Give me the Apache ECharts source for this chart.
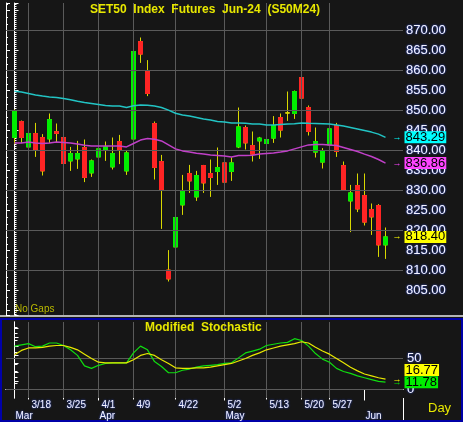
<!DOCTYPE html>
<html>
<head>
<meta charset="utf-8">
<script src="https://cdn.jsdelivr.net/npm/echarts@6.0.0/dist/echarts.min.js"></script>
<style>
html, body { margin: 0; padding: 0; background: #161616; }
#chart { width: 463px; height: 422px; }
</style>
</head>
<body>
<div id="chart"></div>
<script>
// trading days shown on the chart
const dates = ['3/14','3/15','3/18','3/19','3/20','3/21','3/22','3/25','3/26','3/27','3/28','3/29',
    '4/1','4/2','4/3','4/4','4/5','4/9','4/10','4/11','4/17','4/18','4/19','4/22','4/23','4/24','4/25','4/26','4/29','4/30',
    '5/2','5/3','5/7','5/8','5/9','5/10','5/13','5/14','5/15','5/16','5/17','5/20','5/21','5/23','5/24','5/27','5/28','5/29','5/30','5/31',
    '6/4','6/5','6/6','6/7'];

const openPrices = [843.25,847.25,840.9,844.25,843.25,842.9,844.75,843.25,837.4,837.9,840.75,834.4,
    838.4,840.25,835.9,842.25,834.9,842.9,867.25,859.75,846.75,837.25,810.1,815.9,826.4,834.25,828.4,836.25,834.25,834.75,
    836.9,834.75,840.9,845.75,841.25,842.4,841.75,843.1,848.25,849.4,849.25,858.25,850.75,839.6,837.1,841.4,846.25,836.25,827.4,831.25,
    828.75,825.25,826.25,816.4];
const closePrices = [849.75,843.25,844.25,840.25,834.9,847.75,844.25,836.75,839.25,839.25,833.25,837.4,
    840.4,840.9,839.25,840.25,839.4,864.75,864.1,854.25,835.75,830.25,807.9,823.25,829.75,832.4,833.75,831.9,833.25,835.75,
    832.1,836.9,845.9,841.9,839.1,843.1,842.75,846.25,845.1,849.4,854.75,853.1,844.75,842.25,839.9,845.4,839.75,830.25,829.4,825.4,
    822.1,823.4,816.4,818.4];
const lowPrices = [841.6,841.9,840.6,838.4,833.75,841.9,841.9,834.6,834.9,835.4,832.1,833.4,
    837.1,837.4,835.25,836.6,833.9,841.9,861.9,853.6,832.75,820.4,807.25,813.1,823.9,829.4,827.4,829.4,828.4,831.4,
    830.6,832.4,840.6,840.25,837.25,837.9,839.25,841.9,843.25,847.4,847.9,852.1,843.75,838.25,835.5,839.9,838.4,829.9,819.6,824.6,
    821.25,818.9,813.4,812.9];
const highPrices = [850.25,847.5,849.25,846.9,844.1,849.25,846.75,845.25,840.9,842.4,842.75,837.75,
    844.75,842.25,843.25,843.9,839.9,865.25,868.25,862.6,847.25,838.9,815.1,824.75,833.9,836.4,834.9,836.4,837.75,840.75,
    837.6,838.25,850.75,846.25,844.75,843.4,845.4,848.6,849.25,854.75,855.0,860.1,851.25,845.75,840.6,845.75,846.9,837.25,831.4,834.25,
    834.25,826.75,826.6,820.75];

// moving averages (cyan = long, magenta = short)
const maLong = [854.8,854.6,854.25,853.9,853.6,853.4,853.25,853.0,852.7,852.3,852.0,851.75,
    851.5,851.25,851.1,851.1,850.75,851.2,851.4,851.3,851.1,850.75,850.1,849.3,848.9,848.6,848.25,847.9,847.6,847.25,
    847.1,846.9,846.9,846.8,846.6,846.6,846.4,846.4,846.5,846.6,846.7,846.9,846.8,846.75,846.7,846.6,846.4,846.1,845.75,845.4,
    845.0,844.6,844.1,843.29];
const maShort = [841.9,841.9,842.1,841.9,841.75,841.9,842.1,842.0,841.9,841.6,841.3,841.1,
    841.1,841.1,841.1,841.1,840.9,841.75,842.6,843.0,842.8,842.4,841.4,840.4,839.9,839.6,839.3,839.1,838.9,838.75,
    838.6,838.4,838.75,838.75,838.8,839.1,839.25,839.4,839.6,839.9,840.4,840.9,841.4,841.5,841.5,841.4,841.25,840.75,840.25,839.75,
    839.1,838.5,837.75,836.86];

// modified stochastic
const stochK = [70,72,74,69,70,75,75,71,64,55,38,34,
    39,42,43,43,43,59,70,64,45,37,27,27,31,33,36,38,39,40,
    42,43,51,59,62,65,71,73,75,76,82,79,70,58,49,44,34,29,26,22,
    19,16,13,11.78];
const stochD = [56,63,67,67,68,70,71,71,68,64,57,50,
    44,43,43,43,43,48,55,58,55,48,42,35,34,34,35,35,36,38,
    40,42,46,50,55,59,64,67,70,72,74,77,75,68,62,57,50,43,36,30,
    25,22,19,16.77];

const weekLabels = ['3/18','3/25','4/1','4/9','4/22','5/2','5/13','5/20','5/27'];
const monthStarts = ['3/14','4/1','5/2','6/4'];
const monthNames = ['Mar','Apr','May','Jun'];
const priceLabels = [805,810,815,820,825,830,835,840,845,850,855,860,865,870];
const priceGrid = [810,820,830,840,850,860,870];
const stochLabels = [0,50];
const stochGrid = [0,50];

const FONT = 'Liberation Sans';
const WICK = '#d8d800';
const UP = '#00ee00';
const DOWN = '#ff2424';
const GRID = '#5a5a5a';
const last = dates.length - 1;
const xMin = -1.2143, xMax = 55.5;
const pMin = 798.875, pMax = 876.875;
const sMin = -13.71, sMax = 108.87;

const weekIdx = weekLabels.map(d => dates.indexOf(d));
const monthIdx = monthStarts.map(d => dates.indexOf(d));

const wickData = dates.map((d, i) => [i, openPrices[i], closePrices[i], lowPrices[i], highPrices[i]]);
const bodyData = dates.map((d, i) => [i, openPrices[i], closePrices[i],
    Math.min(openPrices[i], closePrices[i]), Math.max(openPrices[i], closePrices[i])]);
const toXY = arr => arr.map((v, i) => [i, v]);

// arrow + value box at the right end of a series
function tags(y, color, dy) {
    return [
        {coord: [last, y], symbolSize: 0,
            label: {show: true, position: 'right', distance: 7, formatter: '\u2192', color: color, fontSize: 9, fontFamily: FONT}},
        {coord: [last, y], symbolSize: 0,
            label: {show: true, position: 'right', distance: 19, offset: [0, dy || 0], formatter: y.toFixed(2),
                color: '#000', backgroundColor: color, fontSize: 13, fontFamily: FONT, lineHeight: 11, padding: [1, 1, 0, 1]}}
    ];
}

// one straight grid line per series, two points each
function gridSeries(xAxisIndex, yAxisIndex, yLo, yHi, yValues) {
    const lines = weekIdx.map(i => [[i, yLo], [i, yHi]])
        .concat(yValues.map(v => [[xMin, v], [xMax, v]]));
    return lines.map(pts => ({type: 'line', xAxisIndex: xAxisIndex, yAxisIndex: yAxisIndex, silent: true,
        symbol: 'none', showSymbol: false, lineStyle: {color: GRID, width: 1}, data: pts}));
}

const axisText = {color: '#f4f4ff', fontFamily: FONT, textShadowColor: '#3a5cff', textShadowBlur: 2};

let chart = echarts.init(document.getElementById('chart'));
chart.setOption({
    animation: false,
    backgroundColor: '#161616',
    title: [
        {text: 'SET50  Index  Futures  Jun-24  (S50M24)', left: 90, top: 4, padding: 0,
            textStyle: {color: '#e8e800', fontSize: 12, fontWeight: 'bold', fontFamily: FONT}},
        {text: 'Modified  Stochastic', left: 145, top: 322, padding: 0,
            textStyle: {color: '#e8e800', fontSize: 12, fontWeight: 'bold', fontFamily: FONT}}
    ],
    grid: [
        {left: 6, right: 60, top: 3, bottom: 107},
        {left: 6, right: 60, top: 322, bottom: 24}
    ],
    xAxis: [
        {gridIndex: 0, type: 'value', min: xMin, max: xMax, show: false},
        {gridIndex: 1, type: 'value', min: xMin, max: xMax,
            axisLine: {lineStyle: {color: '#ffffff'}},
            axisTick: {customValues: weekIdx, length: 10, lineStyle: {color: '#ffffff'}},
            axisLabel: {customValues: weekIdx, formatter: v => dates[v], align: 'left', padding: [0, 0, 0, 3],
                margin: 2, fontSize: 10, ...axisText},
            splitLine: {show: false}},
        {gridIndex: 1, type: 'value', min: xMin, max: xMax, position: 'bottom', offset: 11,
            axisLine: {lineStyle: {color: '#ffffff'}},
            axisTick: {customValues: monthIdx.slice(1), length: 11, lineStyle: {color: '#ffffff'}},
            axisLabel: {customValues: monthIdx, formatter: v => monthNames[monthIdx.indexOf(v)], align: 'left',
                padding: [0, 0, 0, 1], margin: 2, fontSize: 10, ...axisText},
            splitLine: {show: false}}
    ],
    yAxis: [
        {gridIndex: 0, type: 'value', position: 'right', min: pMin, max: pMax, splitNumber: 16,
            axisLine: {show: true, lineStyle: {color: '#ffffff'}},
            axisTick: {show: true, length: 4, lineStyle: {color: '#ffffff'}},
            minorTick: {show: true, splitNumber: 10, length: 2, lineStyle: {color: '#ffffff'}},
            axisLabel: {customValues: priceLabels, formatter: v => v.toFixed(2), margin: 3, fontSize: 13, ...axisText},
            splitLine: {show: false}},
        {gridIndex: 0, type: 'value', position: 'left', min: pMin, max: pMax, splitNumber: 16,
            axisLine: {show: true, lineStyle: {color: '#ffffff'}},
            axisTick: {show: true, inside: true, length: 4, lineStyle: {color: '#ffffff'}},
            minorTick: {show: true, splitNumber: 3, length: 2, lineStyle: {color: '#ffffff'}},
            axisLabel: {show: false}, splitLine: {show: false}},
        {gridIndex: 1, type: 'value', position: 'right', min: sMin, max: sMax,
            axisLine: {show: true, lineStyle: {color: '#ffffff'}},
            axisTick: {show: true, customValues: [0,10,20,30,40,50,60,70,80,90,100], length: 3, lineStyle: {color: '#ffffff'}},
            axisLabel: {customValues: stochLabels, margin: 4, fontSize: 13, ...axisText},
            splitLine: {show: false}},
        {gridIndex: 1, type: 'value', position: 'left', min: sMin, max: sMax,
            axisLine: {show: true, lineStyle: {color: '#ffffff'}},
            axisTick: {show: true, inside: true, customValues: [0,14,28,42,56,70,84,98], length: 4, lineStyle: {color: '#ffffff'}},
            axisLabel: {show: false}, splitLine: {show: false}}
    ],
    series: [
        ...gridSeries(0, 0, pMin, pMax, priceGrid),
        ...gridSeries(1, 2, sMin, sMax, stochGrid),
        {
            name: 'wick', type: 'candlestick', xAxisIndex: 0, yAxisIndex: 0, silent: true,
            encode: {x: 0, y: [1, 2, 3, 4]}, barWidth: 4,
            itemStyle: {color: WICK, color0: WICK, borderColor: WICK, borderColor0: WICK, borderWidth: 1},
            data: wickData
        },
        {
            name: 'S50M24', type: 'candlestick', xAxisIndex: 0, yAxisIndex: 0, silent: true,
            encode: {x: 0, y: [1, 2, 3, 4]}, barWidth: 4,
            itemStyle: {color: UP, color0: DOWN, borderColor: UP, borderColor0: DOWN, borderColorDoji: WICK, borderWidth: 1},
            data: bodyData,
            markPoint: {silent: true, data: tags(closePrices[last], '#ffff00')}
        },
        {
            name: 'MA long', type: 'line', xAxisIndex: 0, yAxisIndex: 0, silent: true,
            symbol: 'none', lineStyle: {color: '#22c4c4', width: 1.5},
            data: toXY(maLong),
            markPoint: {silent: true, data: tags(maLong[last], '#00ffff')}
        },
        {
            name: 'MA short', type: 'line', xAxisIndex: 0, yAxisIndex: 0, silent: true,
            symbol: 'none', lineStyle: {color: '#c040c8', width: 1.5},
            data: toXY(maShort),
            markPoint: {silent: true, data: tags(maShort[last], '#ff44ff')}
        },
        {
            name: '%K', type: 'line', xAxisIndex: 1, yAxisIndex: 2, silent: true,
            symbol: 'none', lineStyle: {color: '#10dd10', width: 1.2},
            data: toXY(stochK),
            markPoint: {silent: true, data: tags(stochK[last], '#00ee00')}
        },
        {
            name: '%D', type: 'line', xAxisIndex: 1, yAxisIndex: 2, silent: true,
            symbol: 'none', lineStyle: {color: '#e8e800', width: 1.2},
            data: toXY(stochD),
            markPoint: {silent: true, data: tags(stochD[last], '#ffff00', -9)}
        }
    ],
    graphic: [
        {type: 'rect', shape: {x: 0, y: 315, width: 463, height: 2}, style: {fill: '#b4b4b4'}},
        {type: 'rect', shape: {x: 1, y: 319, width: 461, height: 102}, style: {fill: 'none', stroke: '#0000a8', lineWidth: 2}},
        {type: 'line', shape: {x1: 403.5, y1: 398, x2: 403.5, y2: 420}, style: {stroke: '#ffffff', lineWidth: 1}},
        {type: 'text', left: 15, top: 304, style: {text: 'No Gaps', fill: '#b8b800', font: '10px "Liberation Sans"'}},
        {type: 'text', left: 428, top: 402, style: {text: 'Day', fill: '#e8e800', font: '13px "Liberation Sans"'}}
    ]
});
</script>
</body>
</html>
